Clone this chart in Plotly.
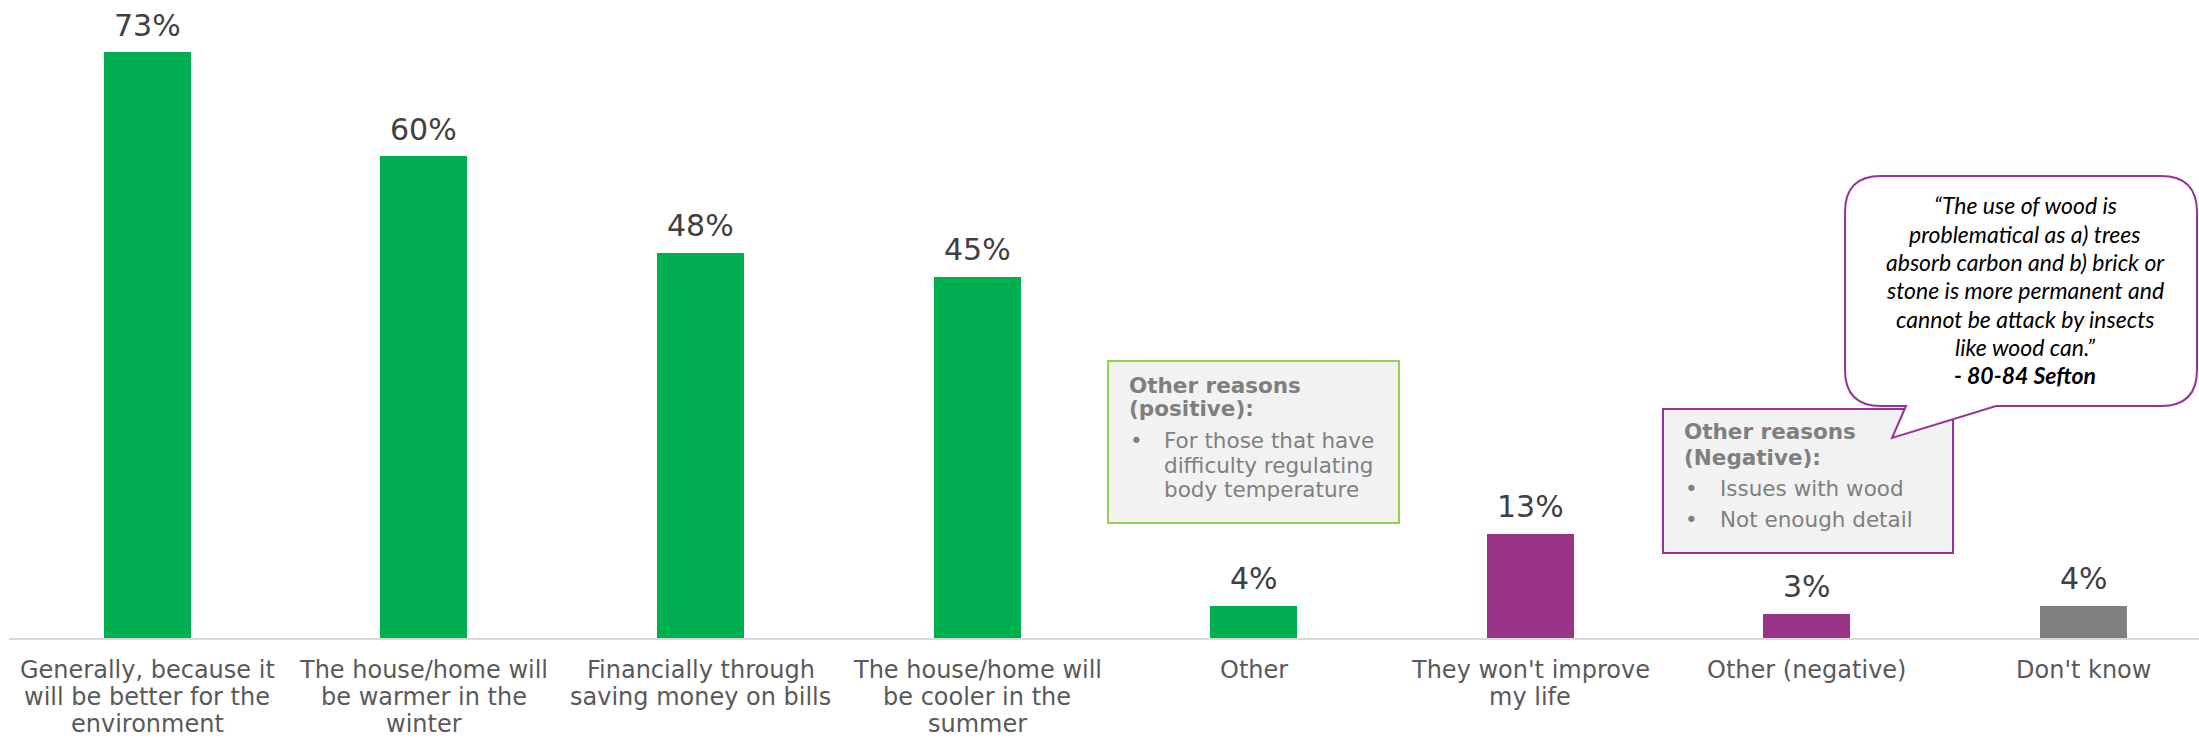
import plotly.graph_objects as go

# ---- data ----
categories = [
    "Generally, because it<br>will be better for the<br>environment",
    "The house/home will<br>be warmer in the<br>winter",
    "Financially through<br>saving money on bills",
    "The house/home will<br>be cooler in the<br>summer",
    "Other",
    "They won't improve<br>my life",
    "Other (negative)",
    "Don't know",
]
values = [73, 60, 48, 45, 4, 13, 3, 4]
groups = ["positive", "positive", "positive", "positive", "positive",
          "negative", "negative", "unsure"]

positive_title = ["Other reasons", "(positive):"]
positive_items = [["For those that have", "difficulty regulating", "body temperature"]]
negative_title = ["Other reasons", "(Negative):"]
negative_items = [["Issues with wood"], ["Not enough detail"]]
quote_lines = [
    "\u201cThe use of wood is",
    "problematical as a) trees",
    "absorb carbon and b) brick or",
    "stone is more permanent and",
    "cannot be attack by insects",
    "like wood can.\u201d",
]
quote_source = "- 80-84 Sefton"

# ---- styling ----
W, H = 2199, 740
ML, MB = 9, 102
PLOT_W = W - ML
PLOT_H = H - MB
GROUP_COLORS = {"positive": "#00B050", "negative": "#993388", "unsure": "#808080"}
GREEN_EDGE = "#92D050"
PURPLE_EDGE = "#993399"
BOX_FILL = "#F2F2F2"
BOX_TEXT = "#7F7F7F"
LABEL_FONT = "DejaVu Sans"
QUOTE_FONT = "Lato"
VALUE_SIZE = 30
TICK_SIZE = 24
BOX_SIZE = 21.5
QUOTE_SIZE = 23


def fx(x):
    """pixel x -> paper x"""
    return (x - ML) / PLOT_W


def fy(y):
    """pixel y (from top) -> paper y"""
    return (PLOT_H - y) / PLOT_H


fig = go.Figure()
fig.add_trace(go.Bar(
    x=list(range(len(categories))),
    y=values,
    marker=dict(color=[GROUP_COLORS[g] for g in groups], line=dict(width=0)),
    width=0.3145,
    hoverinfo="skip",
))

annotations = []

# value labels above bars
for i, v in enumerate(values):
    annotations.append(dict(
        x=i, y=v, xref="x", yref="y", text=f"{v}%", showarrow=False,
        xanchor="center", yanchor="middle", yshift=27,
        font=dict(family=LABEL_FONT, size=VALUE_SIZE, color="#404040"),
    ))

# category labels, one annotation per line
for i, cat in enumerate(categories):
    for j, line in enumerate(cat.split("<br>")):
        baseline = 678 + 27 * j
        annotations.append(dict(
            x=i, y=fy(baseline - 0.35 * TICK_SIZE), xref="x", yref="paper",
            text=line, showarrow=False, xanchor="center", yanchor="middle",
            font=dict(family=LABEL_FONT, size=TICK_SIZE, color="#595959"),
        ))


def text_line(x, baseline, text, size=BOX_SIZE, color=BOX_TEXT, family=LABEL_FONT,
              anchor="left"):
    annotations.append(dict(
        x=fx(x), y=fy(baseline - 0.35 * size), xref="paper", yref="paper",
        text=text, showarrow=False, xanchor=anchor, yanchor="middle",
        font=dict(family=family, size=size, color=color),
    ))


# positive reasons box text
text_line(1127, 392.7, "<b>" + positive_title[0] + "</b>")
text_line(1127, 416.5, "<b>" + positive_title[1] + "</b>")
pos_base = [448.0, 473.3, 497.5]
k = 0
for item in positive_items:
    text_line(1128, pos_base[k], "\u2022")
    for line in item:
        text_line(1162, pos_base[k], line)
        k += 1

# negative reasons box text
text_line(1682, 439.5, "<b>" + negative_title[0] + "</b>")
text_line(1682, 465.5, "<b>" + negative_title[1] + "</b>")
neg_base = [496.0, 526.7]
k = 0
for item in negative_items:
    text_line(1683, neg_base[k], "\u2022")
    for line in item:
        text_line(1718, neg_base[k], line)
        k += 1

# quote bubble text
QX = 2025
for j, line in enumerate(quote_lines):
    text_line(QX, 213.3 + 28.35 * j, "<i>" + line + "</i>", size=QUOTE_SIZE,
              color="#000000", family=QUOTE_FONT, anchor="center")
text_line(QX, 213.3 + 28.35 * len(quote_lines), "<b><i>" + quote_source + "</i></b>",
          size=QUOTE_SIZE, color="#000000", family=QUOTE_FONT, anchor="center")

shapes = []
# positive reasons box
shapes.append(dict(type="rect", xref="paper", yref="paper",
                   x0=fx(1108), x1=fx(1399), y0=fy(523), y1=fy(361),
                   fillcolor=BOX_FILL, line=dict(color=GREEN_EDGE, width=2),
                   layer="above"))
# negative reasons box
shapes.append(dict(type="rect", xref="paper", yref="paper",
                   x0=fx(1663), x1=fx(1953), y0=fy(553), y1=fy(409),
                   fillcolor=BOX_FILL, line=dict(color=PURPLE_EDGE, width=2),
                   layer="above"))

# speech bubble with rounded corners and a tail
L, R, T, B, RAD = 1845, 2197, 176, 406, 36
pts = [
    ("M", [(L + RAD, T)]),
    ("L", [(R - RAD, T)]),
    ("Q", [(R, T), (R, T + RAD)]),
    ("L", [(R, B - RAD)]),
    ("Q", [(R, B), (R - RAD, B)]),
    ("L", [(1996, B)]),
    ("L", [(1892, 438)]),
    ("L", [(1906, B)]),
    ("L", [(L + RAD, B)]),
    ("Q", [(L, B), (L, B - RAD)]),
    ("L", [(L, T + RAD)]),
    ("Q", [(L, T), (L + RAD, T)]),
]
path = ""
for cmd, coords in pts:
    path += cmd + " " + " ".join(f"{fx(x):.5f},{fy(y):.5f}" for x, y in coords) + " "
path += "Z"
shapes.append(dict(type="path", xref="paper", yref="paper", path=path,
                   fillcolor="#FFFFFF", line=dict(color=PURPLE_EDGE, width=2),
                   layer="above"))

fig.update_layout(
    width=W, height=H,
    margin=dict(l=ML, r=0, t=0, b=MB, pad=0),
    paper_bgcolor="#FFFFFF", plot_bgcolor="#FFFFFF",
    showlegend=False,
    bargap=0,
    xaxis=dict(
        range=[-0.5, -0.5 + PLOT_W / 276.6],
        showticklabels=False, ticks="", showgrid=False, zeroline=False,
        showline=True, linecolor="#D9D9D9", linewidth=2, fixedrange=True,
    ),
    yaxis=dict(
        range=[0, PLOT_H / 8.027], visible=False, showgrid=False,
        zeroline=False, fixedrange=True,
    ),
    annotations=annotations,
    shapes=shapes,
)

fig.write_html("out.html")
